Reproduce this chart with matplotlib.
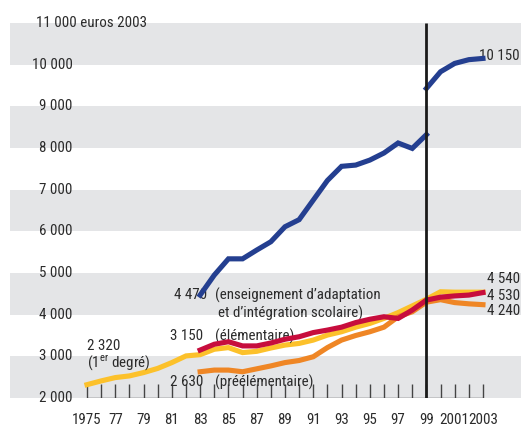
import matplotlib
matplotlib.use("Agg")
import matplotlib.pyplot as plt
from matplotlib import font_manager

_names = {f.name for f in font_manager.fontManager.ttflist}
FONT, FS = 'Liberation Sans', 9.6
for _f, _s in [('Roboto Condensed', 10.8), ('Archivo Narrow', 10.8),
               ('PT Sans Narrow', 10.8), ('Liberation Sans Narrow', 10.8)]:
    if _f in _names:
        FONT, FS = _f, _s
        break
plt.rcParams['font.family'] = [FONT, 'DejaVu Sans']
plt.rcParams['mathtext.fontset'] = 'custom'
plt.rcParams['mathtext.rm'] = FONT

# ---- data ----
years_primary = list(range(1975, 2004))
primaire = [2320, 2410, 2490, 2530, 2610, 2710, 2850, 3010, 3040, 3170, 3210, 3090, 3120,
            3200, 3270, 3310, 3390, 3510, 3590, 3700, 3790, 3910, 4050, 4210, 4370,
            4550, 4540, 4540, 4540]

years_sub = list(range(1983, 2004))
elementaire = [3150, 3290, 3350, 3250, 3250, 3320, 3410, 3470, 3570, 3630, 3700, 3810,
               3890, 3950, 3910, 4110, 4350, 4420, 4450, 4470, 4530]
preelementaire = [2630, 2670, 2670, 2630, 2700, 2770, 2850, 2900, 2990, 3210, 3390, 3500,
                  3590, 3700, 3950, 4070, 4300, 4360, 4290, 4260, 4240]

years_ais_a = list(range(1983, 2000))
ais_a = [4470, 4950, 5340, 5340, 5550, 5750, 6110, 6280, 6750, 7220, 7560, 7590,
         7710, 7880, 8120, 7990, 8320]
years_ais_b = list(range(1999, 2004))
ais_b = [9430, 9830, 10030, 10120, 10150]

band_starts = [2000, 4000, 6000, 8000, 10000]
ytick_vals = [2000, 3000, 4000, 5000, 6000, 7000, 8000, 9000, 10000]
ytick_labels = ['2 000', '3 000', '4 000', '5 000', '6 000', '7 000', '8 000', '9 000', '10 000']
xtick_vals = [1975, 1977, 1979, 1981, 1983, 1985, 1987, 1989, 1991, 1993, 1995, 1997, 1999, 2001, 2003]
xtick_labels = ['1975', '77', '79', '81', '83', '85', '87', '89', '91', '93', '95', '97', '99', '2001', '2003']

# ---- style ----
BLUE = '#243f90'
RED = '#c70d3d'
YELLOW = '#fcc12b'
ORANGE = '#ef8625'
GREY = '#e4e5e7'
TXT = '#2b2b2b'

W, H = 521, 426
fig = plt.figure(figsize=(W / 100, H / 100), dpi=100)
ax = fig.add_axes([10 / W, 28 / H, 511 / W, 375 / H])
ax.set_xlim(1969.555, 2005.69)
ax.set_ylim(2000, 11000)
for s in ax.spines.values():
    s.set_visible(False)

for b in band_starts:
    ax.axhspan(b, b + 1000, color=GREY, lw=0, zorder=0)

# baseline + yearly ticks
ax.hlines(2000, 1975, 2003, color='#444444', lw=1.0, zorder=1)
ax.vlines(range(1975, 2004), 2000, 2330, color='#444444', lw=1.0, zorder=1)
ax.vlines(1999, 2000, 11000, color='#1a1a1a', lw=2.0, zorder=5)

lw = 3.7
ax.plot(years_primary, primaire, color=YELLOW, lw=lw, solid_joinstyle='miter', zorder=3)
ax.plot(years_sub, preelementaire, color=ORANGE, lw=lw, solid_joinstyle='miter', zorder=3)
ax.plot(years_sub, elementaire, color=RED, lw=lw, solid_joinstyle='miter', zorder=4)
ax.plot(years_ais_a, ais_a, color=BLUE, lw=lw, solid_joinstyle='miter', zorder=4)
ax.plot(years_ais_b, ais_b, color=BLUE, lw=lw, solid_joinstyle='miter', zorder=4)

# y labels
for v, l in zip(ytick_vals, ytick_labels):
    ax.text(1974.0, v, l, ha='right', va='center', fontsize=FS, color=TXT)
ax.text(1971.4, 11000, '11 000 euros 2003', ha='left', va='center', fontsize=FS, color=TXT)

# x labels
ax.set_xticks(xtick_vals)
ax.set_xticklabels(xtick_labels, fontsize=FS, color=TXT)
ax.tick_params(axis='x', length=0, pad=10.5)
ax.set_yticks([])

# annotations
ax.text(1983.5, 4470, '4 470', ha='right', va='center', fontsize=FS, color=TXT)
ax.text(1984.05, 4470, "(enseignement d\u2019adaptation", ha='left', va='center', fontsize=FS, color=TXT)
ax.text(1984.26, 4020, "et d\u2019int\u00e9gration scolaire)", ha='left', va='center', fontsize=FS, color=TXT)
ax.text(1983.2, 3480, '3 150', ha='right', va='center', fontsize=FS, color=TXT)
ax.text(1984.05, 3480, "(\u00e9l\u00e9mentaire)", ha='left', va='center', fontsize=FS, color=TXT)
ax.text(1983.2, 2380, '2 630', ha='right', va='center', fontsize=FS, color=TXT)
ax.text(1984.05, 2380, "(pr\u00e9\u00e9l\u00e9mentaire)", ha='left', va='center', fontsize=FS, color=TXT)
ax.text(1975.0, 3240, '2 320', ha='left', va='center', fontsize=FS, color=TXT)
ax.text(1975.0, 2830, r'(1$^{\rm er}$ degré)', ha='left', va='center', fontsize=FS, color=TXT)

ax.text(2005.62, 10200, '10 150', ha='right', va='center', fontsize=FS, color=TXT)
ax.text(2005.62, 4850, '4 540', ha='right', va='center', fontsize=FS, color=TXT)
ax.text(2005.62, 4460, '4 530', ha='right', va='center', fontsize=FS, color=TXT)
ax.text(2005.62, 4080, '4 240', ha='right', va='center', fontsize=FS, color=TXT)

fig.savefig('out.png', dpi=100)
